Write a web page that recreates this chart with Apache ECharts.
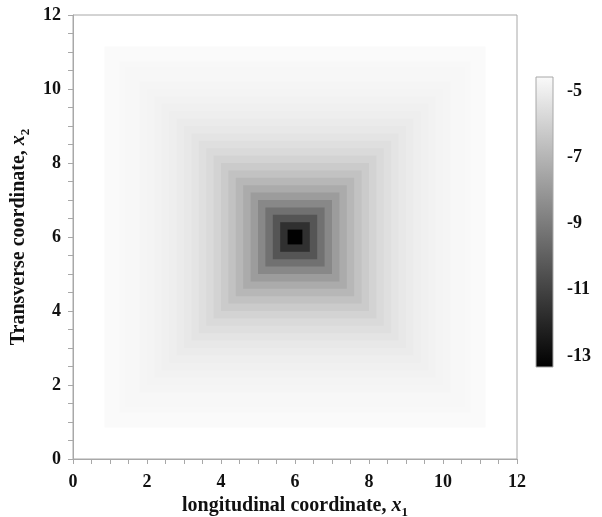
<!DOCTYPE html>
<html>
<head>
<meta charset="utf-8">
<script src="https://cdn.jsdelivr.net/npm/echarts@6/dist/echarts.min.js"></script>
<style>
  html, body { margin: 0; padding: 0; background: #fff; }
  #chart { width: 602px; height: 517px; }
</style>
</head>
<body>
<div id="chart"></div>
<script>
// Field centred on (6, 6): each ring is a square of the given half-width
// (in coordinate units) filled with the field value of that ring.
const centre = [6, 6];
const ringHalfWidth = [5.15, 4.75, 4.6, 4.4, 4.2, 4.0, 3.8, 3.6, 3.4, 3.2, 3.0, 2.8, 2.6,
  2.4, 2.2, 2.0, 1.8, 1.6, 1.4, 1.2, 1.0, 0.8, 0.6, 0.4, 0.2];
const ringValue = [-4.59, -4.64, -4.67, -4.70, -4.74, -4.79, -4.85, -4.92, -5.00, -5.10, -5.22, -5.35, -5.51,
  -5.71, -5.94, -6.21, -6.53, -6.91, -7.36, -7.88, -8.56, -9.36, -10.36, -11.65, -13.30];

// Colour scale
const scaleMin = -13.33;
const scaleMax = -4.58;
const scaleColors = ['#000000', '#fafafa'];
const scaleTicks = [-13, -11, -9, -7, -5];

// Axis ticks
const axisMin = 0;
const axisMax = 12;
const axisStep = 2;

const serif = "'Liberation Serif', 'Times New Roman', serif";
const lineGray = '#a8a8a8';

const ringData = ringHalfWidth.map((h, i) => [h, ringValue[i]]);

const titleRich = {
  b: { fontFamily: serif, fontWeight: 'bold', fontSize: 20, color: '#111', lineHeight: 26 },
  i: { fontFamily: serif, fontWeight: 'bold', fontStyle: 'italic', fontSize: 20, color: '#111', lineHeight: 26 },
  s: { fontFamily: serif, fontWeight: 'bold', fontSize: 13, color: '#111', lineHeight: 13, verticalAlign: 'bottom' }
};

function mainAxis(extra) {
  return Object.assign({
    type: 'value',
    min: axisMin,
    max: axisMax,
    interval: axisStep,
    axisLine: { show: true, onZero: false, lineStyle: { color: lineGray, width: 1 } },
    axisTick: { show: true, inside: false, length: 5, lineStyle: { color: lineGray } },
    minorTick: { show: true, splitNumber: 4, length: 5, lineStyle: { color: lineGray } },
    splitLine: { show: false },
    minorSplitLine: { show: false },
    axisLabel: { fontFamily: serif, fontWeight: 'bold', fontSize: 18, color: '#111' },
    nameLocation: 'middle',
    nameTextStyle: { rich: titleRich }
  }, extra);
}

const chart = echarts.init(document.getElementById('chart'), null, { renderer: 'canvas' });

chart.setOption({
  animation: false,
  backgroundColor: '#ffffff',
  grid: [
    { left: 73, top: 15, width: 444, height: 444, containLabel: false, outerBoundsMode: 'none',
      show: true, borderColor: lineGray, borderWidth: 1, backgroundColor: 'transparent' },
    { left: 536, top: 77, width: 17, height: 290, containLabel: false, outerBoundsMode: 'none' }
  ],
  xAxis: [
    mainAxis({
      gridIndex: 0,
      name: '{b|longitudinal coordinate, }{i|x}{s|1}',
      nameGap: 33,
      axisLabel: { fontFamily: serif, fontWeight: 'bold', fontSize: 18, color: '#111', margin: 14 }
    }),
    { type: 'value', gridIndex: 1, min: 0, max: 1, show: false }
  ],
  yAxis: [
    mainAxis({
      gridIndex: 0,
      name: '{b|Transverse coordinate, }{i|x}{s|2}',
      nameGap: 34,
      axisLabel: { fontFamily: serif, fontWeight: 'bold', fontSize: 18, color: '#111', margin: 12 }
    }),
    {
      type: 'value',
      gridIndex: 1,
      position: 'right',
      min: scaleMin,
      max: scaleMax,
      axisLine: { show: false },
      axisTick: { show: true, length: 7, customValues: scaleTicks, lineStyle: { color: lineGray } },
      axisLabel: { customValues: scaleTicks, margin: 14, fontFamily: serif, fontWeight: 'bold', fontSize: 18, color: '#111' },
      splitLine: { show: false }
    }
  ],
  visualMap: {
    show: false,
    type: 'continuous',
    seriesIndex: 0,
    dimension: 1,
    min: scaleMin,
    max: scaleMax,
    inRange: { color: scaleColors }
  },
  series: [
    {
      type: 'custom',
      xAxisIndex: 0,
      yAxisIndex: 0,
      data: ringData,
      renderItem: function (params, api) {
        const h = api.value(0);
        const p1 = api.coord([centre[0] - h, centre[1] + h]);
        const p2 = api.coord([centre[0] + h, centre[1] - h]);
        return {
          type: 'rect',
          shape: { x: p1[0], y: p1[1], width: p2[0] - p1[0], height: p2[1] - p1[1] },
          style: { fill: api.visual('color') }
        };
      }
    },
    {
      type: 'custom',
      xAxisIndex: 1,
      yAxisIndex: 1,
      data: [[0, scaleMin, 1, scaleMax]],
      renderItem: function (params, api) {
        const lo = api.coord([api.value(0), api.value(1)]);
        const hi = api.coord([api.value(2), api.value(3)]);
        return {
          type: 'rect',
          shape: { x: lo[0], y: hi[1], width: hi[0] - lo[0], height: lo[1] - hi[1] },
          style: {
            fill: new echarts.graphic.LinearGradient(0, 0, 0, 1, [
              { offset: 0, color: scaleColors[1] },
              { offset: 1, color: scaleColors[0] }
            ]),
            stroke: lineGray,
            lineWidth: 1
          }
        };
      }
    }
  ]
});
</script>
</body>
</html>
